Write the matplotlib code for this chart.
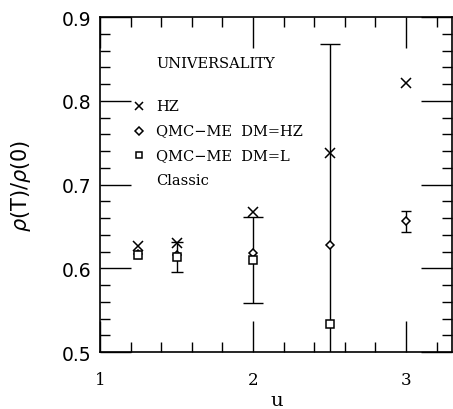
import matplotlib
matplotlib.use("Agg")
import matplotlib.pyplot as plt
from matplotlib.ticker import MultipleLocator

# HZ
u_hz = [1.25, 1.5, 2.0, 2.5, 3.0]
r_hz = [0.627, 0.630, 0.667, 0.738, 0.821]

# QMC-ME DM=HZ
u_dhz = [1.25, 1.5, 2.0, 2.5, 3.0]
r_dhz = [0.617, 0.616, 0.618, 0.628, 0.656]
e_dhz = [0.0, 0.0, 0.0, 0.240, 0.0125]

# QMC-ME DM=L
u_dl = [1.25, 1.5, 2.0, 2.5]
r_dl = [0.616, 0.613, 0.610, 0.533]
e_dl = [0.004, 0.018, 0.051, 0.0]

legend_labels = ["HZ", "QMC\u2212ME  DM=HZ", "QMC\u2212ME  DM=L", "Classic"]

serif = "DejaVu Serif"

fig = plt.figure(figsize=(4.53, 4.10), dpi=100)
ax = fig.add_axes([0.2208, 0.139, 0.777, 0.817])

# error bars (different cap widths as in original)
caps_dl = [2.5, 4.5, 7.0, 0]
for u, r, e, c in zip(u_dl, r_dl, e_dl, caps_dl):
    if e > 0:
        ax.errorbar(u, r, yerr=e, fmt="none", ecolor="black", elinewidth=1.0,
                    capsize=c, capthick=1.0)
caps_dhz = [0, 0, 0, 7.0, 3.6]
for u, r, e, c in zip(u_dhz, r_dhz, e_dhz, caps_dhz):
    if e > 0:
        ax.errorbar(u, r, yerr=e, fmt="none", ecolor="black", elinewidth=1.0,
                    capsize=c, capthick=1.0)

ax.plot(u_hz, r_hz, "x", color="black", ms=7, mew=1.1)
ax.plot(u_dhz, r_dhz, "D", mfc="white", mec="black", ms=4.5, mew=1.1)
ax.plot(u_dl, r_dl, "s", mfc="white", mec="black", ms=5.5, mew=1.1)

ax.set_xlim(1, 3.3)
ax.set_ylim(0.5, 0.9)
ax.xaxis.set_major_locator(MultipleLocator(1))
ax.xaxis.set_minor_locator(MultipleLocator(0.2))
ax.yaxis.set_major_locator(MultipleLocator(0.1))
ax.yaxis.set_minor_locator(MultipleLocator(0.02))
ax.tick_params(which="both", direction="in", top=True, right=True, width=1.0)
ax.tick_params(which="major", length=22)
ax.tick_params(which="minor", length=7)
ax.tick_params(axis="y", labelsize=13.5, pad=6.5)
ax.tick_params(axis="x", pad=14)
ax.set_yticks([0.5, 0.6, 0.7, 0.8, 0.9])
ax.set_yticklabels(["0.5", "0.6", "0.7", "0.8", "0.9"])
for lbl in ax.get_xticklabels():
    lbl.set_fontfamily(serif)
    lbl.set_fontsize(12)
for sp in ax.spines.values():
    sp.set_linewidth(1.2)

ax.set_xlabel("u", fontfamily=serif, fontsize=14)
ax.xaxis.set_label_coords(0.503, -0.116)
ax.set_ylabel(r"$\rho$(T)/$\rho$(0)", fontsize=15)
ax.yaxis.set_label_coords(-0.19, 0.5)

# legend drawn in axes coordinates
ax.text(0.16, 0.862, "UNIVERSALITY", transform=ax.transAxes, fontfamily=serif,
        fontsize=10.5, va="center")
ys = [0.735, 0.661, 0.589, 0.515]
ax.plot(0.111, ys[0], "x", color="black", ms=6, mew=1.1, transform=ax.transAxes, clip_on=False)
ax.plot(0.111, ys[1], "D", mfc="white", mec="black", ms=4, mew=1.1, transform=ax.transAxes, clip_on=False)
ax.plot(0.111, ys[2], "s", mfc="white", mec="black", ms=5, mew=1.1, transform=ax.transAxes, clip_on=False)
for y, t in zip(ys, legend_labels):
    ax.text(0.16, y, t, transform=ax.transAxes, fontfamily=serif, fontsize=10.5, va="center")

fig.savefig("out.png", dpi=100)
